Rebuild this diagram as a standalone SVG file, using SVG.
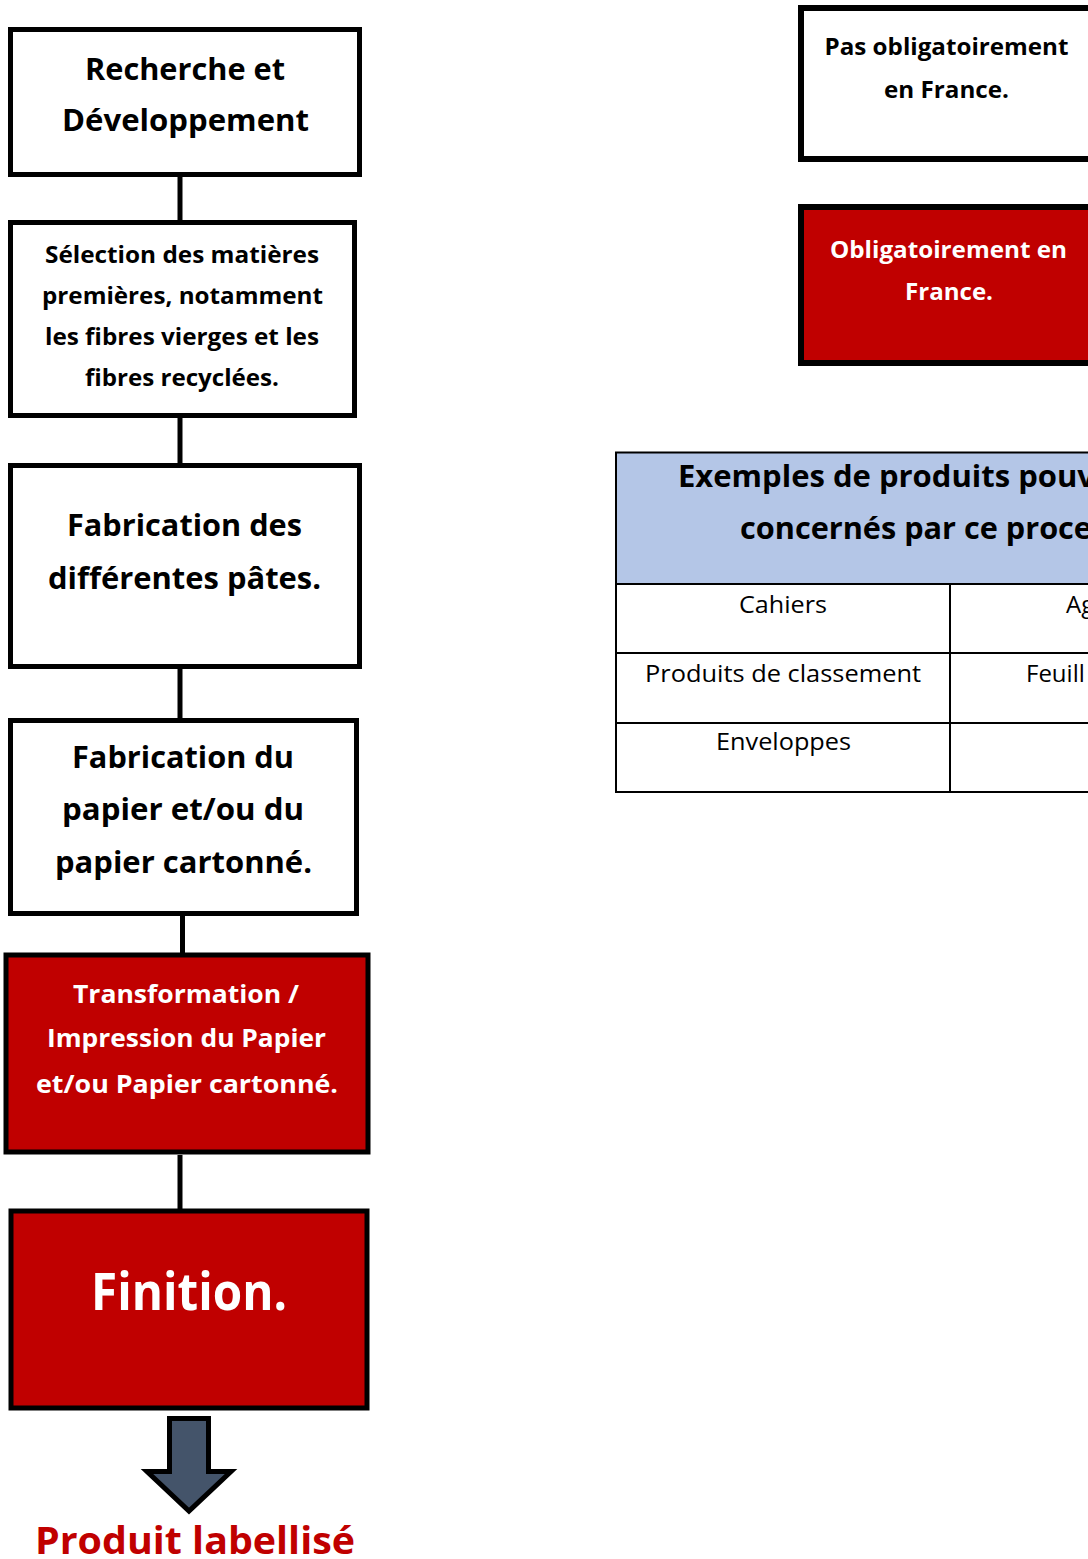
<svg xmlns="http://www.w3.org/2000/svg" width="1088" height="1559" viewBox="0 0 1088 1559">
<style>
.box{fill:#ffffff;stroke:#000000;stroke-width:5}
.red{fill:#c00000;stroke:#000000;stroke-width:5}
.rbox{stroke-width:6}
.t{font-family:"Open Sans","Liberation Sans",sans-serif;font-weight:bold;text-anchor:middle;fill:#000000}
.w{fill:#ffffff}
.conn{stroke:#000000;stroke-width:5;fill:none}
.tbl{stroke:#000000;stroke-width:2;fill:none}
.cell{font-family:"Open Sans","Liberation Sans",sans-serif;font-size:24px;fill:#000000}
</style>
<rect width="1088" height="1559" fill="#ffffff"/>
<g id="connectors">
<line class="conn" x1="180" y1="176" x2="180" y2="222"/>
<line class="conn" x1="180" y1="418" x2="180" y2="465"/>
<line class="conn" x1="180" y1="669" x2="180" y2="720"/>
<line class="conn" x1="182.5" y1="916" x2="182.5" y2="954"/>
<line class="conn" x1="180" y1="1155" x2="180" y2="1210"/>
</g>
<g id="n1">
<rect class="box" x="10.5" y="29.5" width="349" height="145"/>
<text class="t" x="185" y="80" font-size="31" textLength="200" lengthAdjust="spacingAndGlyphs">Recherche et</text>
<text class="t" x="185.5" y="131" font-size="31" textLength="247" lengthAdjust="spacingAndGlyphs">Développement</text>
</g>
<g id="n2">
<rect class="box" x="10.5" y="222.5" width="344" height="193"/>
<text class="t" x="182" y="263" font-size="24" textLength="274" lengthAdjust="spacingAndGlyphs">Sélection des matières</text>
<text class="t" x="182.5" y="304" font-size="24" textLength="281" lengthAdjust="spacingAndGlyphs">premières, notamment</text>
<text class="t" x="182" y="345" font-size="24" textLength="274" lengthAdjust="spacingAndGlyphs">les fibres vierges et les</text>
<text class="t" x="182" y="386" font-size="24" textLength="194" lengthAdjust="spacingAndGlyphs">fibres recyclées.</text>
</g>
<g id="n3">
<rect class="box" x="10.5" y="465.5" width="349" height="201"/>
<text class="t" x="184.5" y="536" font-size="31" textLength="235" lengthAdjust="spacingAndGlyphs">Fabrication des</text>
<text class="t" x="184.5" y="589" font-size="31" textLength="273" lengthAdjust="spacingAndGlyphs">différentes pâtes.</text>
</g>
<g id="n4">
<rect class="box" x="10.5" y="720.5" width="346" height="193"/>
<text class="t" x="183" y="768" font-size="31" textLength="222" lengthAdjust="spacingAndGlyphs">Fabrication du</text>
<text class="t" x="183" y="820" font-size="31" textLength="242" lengthAdjust="spacingAndGlyphs">papier et/ou du</text>
<text class="t" x="183.5" y="873" font-size="31" textLength="257" lengthAdjust="spacingAndGlyphs">papier cartonné.</text>
</g>
<g id="n5">
<rect class="red" x="6" y="955" width="362" height="197" stroke-width="6"/>
<text class="t w" x="186" y="1003" font-size="25" textLength="226" lengthAdjust="spacingAndGlyphs">Transformation /</text>
<text class="t w" x="186.5" y="1047" font-size="25" textLength="279" lengthAdjust="spacingAndGlyphs">Impression du Papier</text>
<text class="t w" x="187" y="1093" font-size="25" textLength="302" lengthAdjust="spacingAndGlyphs">et/ou Papier cartonné.</text>
</g>
<g id="n6">
<rect class="red" x="11" y="1211" width="356" height="197" stroke-width="6"/>
<text class="t w" x="189" y="1310" font-size="52" textLength="196" lengthAdjust="spacingAndGlyphs">Finition.</text>
</g>
<g id="arrow">
<polygon points="169.5,1418.5 208.5,1418.5 208.5,1471.5 231,1471.5 189,1511 147,1471.5 169.5,1471.5" fill="#44546a" stroke="#000000" stroke-width="5"/>
</g>
<g id="result">
<text class="t" x="195" y="1554" font-size="38" style="fill:#c00000" textLength="320" lengthAdjust="spacingAndGlyphs">Produit labellisé</text>
</g>
<g id="legend1">
<rect class="box rbox" x="801" y="8" width="300" height="151"/>
<text class="t" x="946.5" y="55" font-size="23" textLength="244" lengthAdjust="spacingAndGlyphs">Pas obligatoirement</text>
<text class="t" x="946.5" y="98" font-size="23" textLength="125" lengthAdjust="spacingAndGlyphs">en France.</text>
</g>
<g id="legend2">
<rect class="red rbox" x="801" y="207" width="300" height="156"/>
<text class="t w" x="948.5" y="258" font-size="23" textLength="237" lengthAdjust="spacingAndGlyphs">Obligatoirement en</text>
<text class="t w" x="949" y="300" font-size="23" textLength="88" lengthAdjust="spacingAndGlyphs">France.</text>
</g>
<g id="table">
<rect x="616" y="452.5" width="480" height="131" fill="#b4c6e7"/>
<rect class="tbl" x="616" y="452.5" width="480" height="339.5"/>
<line class="tbl" x1="616" y1="584" x2="1090" y2="584"/>
<line class="tbl" x1="616" y1="653" x2="1090" y2="653"/>
<line class="tbl" x1="616" y1="723" x2="1090" y2="723"/>
<line class="tbl" x1="950" y1="584" x2="950" y2="792"/>
<text class="t" x="678" y="487" font-size="31" style="text-anchor:start" textLength="417" lengthAdjust="spacingAndGlyphs">Exemples de produits pouv</text>
<text class="t" x="740" y="539" font-size="31" style="text-anchor:start" textLength="352" lengthAdjust="spacingAndGlyphs">concernés par ce proce</text>
<text class="cell" x="783" y="613" text-anchor="middle" textLength="88" lengthAdjust="spacingAndGlyphs">Cahiers</text>
<text class="cell" x="783" y="682" text-anchor="middle" textLength="276" lengthAdjust="spacingAndGlyphs">Produits de classement</text>
<text class="cell" x="783.5" y="750" text-anchor="middle" textLength="135" lengthAdjust="spacingAndGlyphs">Enveloppes</text>
<text class="cell" x="1066" y="613">Ag</text>
<text class="cell" x="1026" y="682">Feuill</text>
</g>
</svg>
